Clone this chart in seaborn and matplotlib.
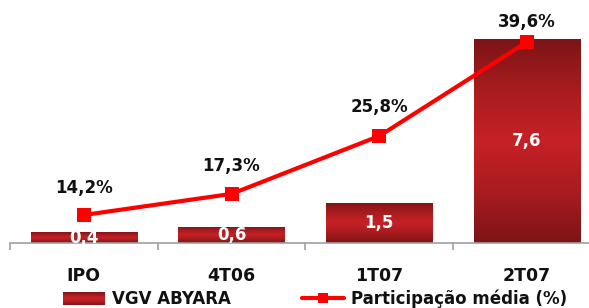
import numpy as np
import pandas as pd
import matplotlib.pyplot as plt
import seaborn as sns
from matplotlib.colors import LinearSegmentedColormap
from matplotlib.patches import Rectangle
from matplotlib.lines import Line2D
from matplotlib.legend_handler import HandlerBase

# data
periods = ['IPO', '4T06', '1T07', '2T07']
vgv = [0.4, 0.6, 1.5, 7.6]
participacao = [14.2, 17.3, 25.8, 39.6]
vgv_labels = ['0,4', '0,6', '1,5', '7,6']
part_labels = ['14,2%', '17,3%', '25,8%', '39,6%']

df = pd.DataFrame({'periodo': periods, 'vgv': vgv, 'part': participacao})

sns.set_theme(style="white")
plt.rcParams['font.family'] = ['DejaVu Sans']

fig = plt.figure(figsize=(5.89, 3.08), dpi=100)
ax = fig.add_axes([10 / 589, 65 / 308, 579 / 589, 243 / 308])

sns.barplot(data=df, x='periodo', y='vgv', color='#a81c1f', width=0.72,
            saturation=1, ax=ax)

# gradient fill: dark at top and bottom, bright in the middle
grad_cmap = LinearSegmentedColormap.from_list(
    'bar', ['#7c1417', '#a81c1f', '#c62126', '#a81c1f', '#7c1417'])
grad = np.linspace(0, 1, 256).reshape(-1, 1)
for bar in ax.patches:
    x0, y0 = bar.get_x(), bar.get_y()
    w, h = bar.get_width(), bar.get_height()
    bar.set_facecolor('none')
    bar.set_edgecolor('none')
    im = ax.imshow(grad, cmap=grad_cmap, aspect='auto',
                   extent=[x0, x0 + w, y0, y0 + h], zorder=2)
    im.set_clip_path(bar)

ax.bar_label(ax.containers[0], labels=vgv_labels, label_type='center',
             color='white', fontsize=12, fontweight='bold', zorder=5)

ax.set_xlim(-0.5, 3.42)
ax.set_ylim(0, 9.07)
ax.set_xlabel('')
ax.set_ylabel('')
ax.set_yticks([])
sns.despine(ax=ax, left=True, top=True, right=True)
ax.spines['bottom'].set_color('#a0a0a0')
ax.spines['bottom'].set_linewidth(1.2)

# ticks on category boundaries, labels in the middle
ax.set_xticks([-0.5, 0.5, 1.5, 2.5, 3.5])
ax.set_xticklabels([])
ax.tick_params(axis='x', which='major', direction='out', length=5,
               width=1.2, color='#a0a0a0', bottom=True)
ax.set_xticks(range(len(periods)), minor=True)
ax.set_xticklabels(periods, minor=True, fontsize=12.5, fontweight='bold',
                   color='#111111')
ax.tick_params(axis='x', which='minor', length=0, pad=17)

# line on secondary axis
ax2 = ax.twinx()
sns.lineplot(data=df, x='periodo', y='part', color='#ff0000', linewidth=3,
             marker='s', markersize=10, markeredgewidth=0, ax=ax2, zorder=4)
ax2.set_ylim(10.09, 45.77)
ax2.set_xlim(-0.5, 3.42)
ax2.set_yticks([])
ax2.set_ylabel('')
ax2.set_xlabel('')
for s in ax2.spines.values():
    s.set_visible(False)

offsets = [27, 28, 29, 20]
for i, (v, lab) in enumerate(zip(participacao, part_labels)):
    ax2.annotate(lab, (i, v), xytext=(0, offsets[i] / 1.389),
                 textcoords='offset points', ha='center', va='center',
                 fontsize=12, fontweight='bold', color='#111111')

# subtitle, cut off by the top edge as in the original
fig.text(0.508, 1.0 + 2 / 308, '(R$ milhões)', ha='center', va='baseline',
         fontsize=12, fontweight='bold', color='#111111')


class GradientPatchHandler(HandlerBase):
    def create_artists(self, legend, orig_handle, xdescent, ydescent,
                       width, height, fontsize, trans):
        strips = []
        n = 12
        for k in range(n):
            c = grad_cmap((k + 0.5) / n)
            strips.append(Rectangle((-xdescent, -ydescent + k * height / n),
                                    width, height / n + 0.3, facecolor=c,
                                    edgecolor='none', transform=trans))
        return strips


handles = [Rectangle((0, 0), 1, 1, facecolor='#a81c1f', edgecolor='none'),
           Line2D([], [], color='#ff0000', linewidth=3, marker='s',
                  markersize=7, markeredgewidth=0)]
fig.legend(handles, ['VGV ABYARA', 'Participação média (%)'],
           loc='center', bbox_to_anchor=(0.535, 9 / 308), ncol=2,
           frameon=False, handlelength=2.5, handleheight=0.8,
           columnspacing=4.3, handletextpad=0.4,
           handler_map={Rectangle: GradientPatchHandler()},
           labelcolor='#111111',
           prop={'size': 12, 'weight': 'bold'})

fig.savefig('out.png', dpi=100)
